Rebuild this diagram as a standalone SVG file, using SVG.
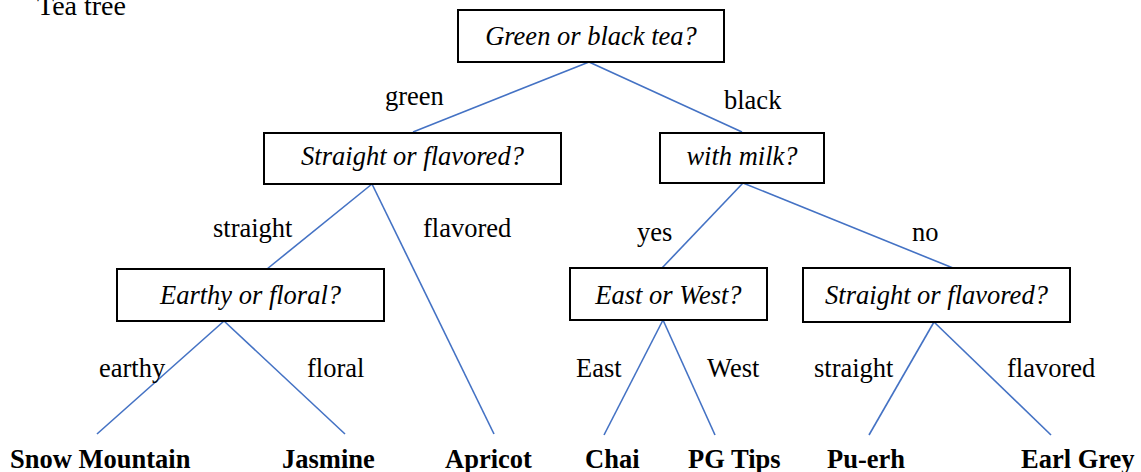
<svg xmlns="http://www.w3.org/2000/svg" width="1141" height="472" viewBox="0 0 1141 472">
<style>
text{font-family:'Liberation Serif','Times New Roman','DejaVu Serif',serif;font-size:26.5px;fill:#000}
.q{font-style:italic;text-anchor:middle}
.leaf{font-weight:bold}
.box{fill:#fff;stroke:#000;stroke-width:2}
.edge{stroke:#4472C4;stroke-width:1.6;fill:none}
</style>
<rect width="1141" height="472" fill="#fff"/>
<g font-family="Liberation Serif, Times New Roman, DejaVu Serif, serif">
<text x="37" y="15" style="font-size:28px">Tea tree</text>
<g id="connectors">
<line class="edge" x1="589" y1="62" x2="413" y2="132"/>
<line class="edge" x1="589" y1="62" x2="742" y2="132"/>
<line class="edge" x1="372" y1="184" x2="267" y2="269"/>
<line class="edge" x1="372" y1="184" x2="494" y2="434"/>
<line class="edge" x1="743" y1="183" x2="662" y2="268"/>
<line class="edge" x1="743" y1="183" x2="953" y2="268"/>
<line class="edge" x1="224" y1="321" x2="97" y2="434"/>
<line class="edge" x1="224" y1="321" x2="345" y2="434"/>
<line class="edge" x1="663" y1="320" x2="604" y2="435"/>
<line class="edge" x1="663" y1="320" x2="715" y2="435"/>
<line class="edge" x1="934" y1="322" x2="869" y2="435"/>
<line class="edge" x1="934" y1="322" x2="1051" y2="435"/>
<text x="385" y="105">green</text>
<text x="724" y="109">black</text>
<text x="213" y="237">straight</text>
<text x="423" y="237">flavored</text>
<text x="637" y="241">yes</text>
<text x="912" y="241">no</text>
<text x="99" y="377">earthy</text>
<text x="307" y="377">floral</text>
<text x="576" y="377">East</text>
<text x="707" y="377">West</text>
<text x="814" y="377">straight</text>
<text x="1007" y="377">flavored</text>
</g>
<g id="n-root"><rect class="box" x="458" y="10" width="266" height="52"/><text class="q" x="591" y="45">Green or black tea?</text></g>
<g id="n-green"><rect class="box" x="264" y="133" width="297" height="51"/><text class="q" x="412.5" y="165">Straight or flavored?</text></g>
<g id="n-black"><rect class="box" x="660" y="133" width="164" height="50"/><text class="q" x="742" y="165">with milk?</text></g>
<g id="n-earthy"><rect class="box" x="117" y="269" width="267" height="52"/><text class="q" x="250.5" y="304">Earthy or floral?</text></g>
<g id="n-eastwest"><rect class="box" x="570" y="268" width="197" height="52"/><text class="q" x="668.5" y="304">East or West?</text></g>
<g id="n-straight2"><rect class="box" x="803" y="268" width="267" height="54"/><text class="q" x="936.5" y="304">Straight or flavored?</text></g>
<g id="l-snow"><text class="leaf" x="10" y="468">Snow Mountain</text></g>
<g id="l-jasmine"><text class="leaf" x="282" y="468">Jasmine</text></g>
<g id="l-apricot"><text class="leaf" x="445" y="468">Apricot</text></g>
<g id="l-chai"><text class="leaf" x="585" y="468">Chai</text></g>
<g id="l-pg"><text class="leaf" x="688" y="468">PG Tips</text></g>
<g id="l-puerh"><text class="leaf" x="827" y="468">Pu-erh</text></g>
<g id="l-earl"><text class="leaf" x="1021" y="468">Earl Grey</text></g>
</g>
</svg>
